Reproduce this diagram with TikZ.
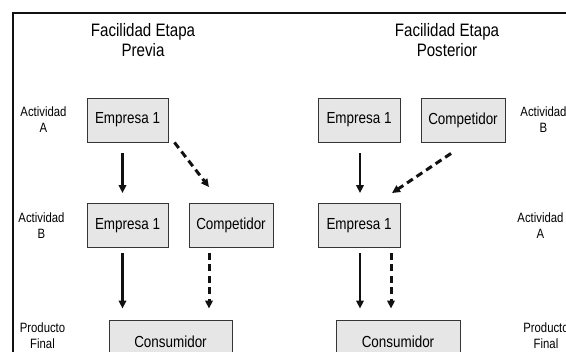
\documentclass[tikz,border=0pt]{standalone}
\usepackage{fontspec}
\setmainfont{Liberation Sans}[FakeStretch=0.84]
\usetikzlibrary{arrows.meta}
\definecolor{boxfill}{HTML}{E6E6E6}
\definecolor{ink}{HTML}{111111}
\begin{document}
\begin{tikzpicture}[x=1pt,y=-1pt,
  firm/.style={draw=ink!85, fill=boxfill, line width=0.9pt, minimum height=44pt, inner sep=0pt,
    font=\fontsize{16}{19}\selectfont},
  ttl/.style={align=center, font=\fontsize{18}{20}\selectfont, inner sep=0pt},
  lbl/.style={align=center, font=\fontsize{13.5}{16}\selectfont, inner sep=0pt},
  flow/.style={draw=ink, line width=2.3pt, -{Triangle[length=8pt,width=7.5pt]}},
  dflow/.style={draw=ink, line width=3pt, dash pattern=on 7pt off 4.5pt, -{Triangle[length=8pt,width=7.5pt]}}]
\useasboundingbox (0,0) rectangle (566,352);
\clip (0,0) rectangle (566,352);
% frame
\draw[line width=2pt, ink] (12.5,400) -- (12.5,13.5) -- (600,13.5);
% titles
\node[ttl] (t1) at (143,40) {Facilidad Etapa\\Previa};
\node[ttl] (t2) at (447,40) {Facilidad Etapa\\Posterior};
% left side boxes
\node[firm, minimum width=81pt] (la) at (127.5,120) {Empresa 1};
\node[firm, minimum width=81pt] (lb) at (127.5,225.5) {Empresa 1};
\node[firm, minimum width=84pt] (lc) at (231,225.5) {Competidor};
\node[firm, minimum width=123pt] (lk) at (170.5,342) {Consumidor};
% right side boxes
\node[firm, minimum width=82pt] (ra) at (359,120) {Empresa 1};
\node[firm, minimum width=84pt] (rc) at (463,120) {Competidor};
\node[firm, minimum width=82pt] (rb) at (359,225.5) {Empresa 1};
\node[firm, minimum width=124pt] (rk) at (398,342) {Consumidor};
% labels
\node[lbl] (l1) at (43.5,120) {Actividad\\A};
\node[lbl] (l2) at (41.5,226) {Actividad\\B};
\node[lbl] (l3) at (42.5,336) {Producto\\Final};
\node[lbl] (r1) at (543.5,120) {Actividad\\B};
\node[lbl] (r2) at (540.5,226) {Actividad\\A};
\node[lbl] (r3) at (546,336) {Producto\\Final};
% left connectors
\coordinate (s1) at ([xshift=-5pt,yshift=-11pt]la.south);
\coordinate (e1) at ([xshift=-5pt,yshift=10pt]lb.north);
\draw[flow] (s1) -- (e1);
\coordinate (ds1) at ([xshift=6pt,yshift=0pt]la.south east);
\coordinate (de1) at ([xshift=-22pt,yshift=16pt]lc.north);
\draw[dflow] (ds1) -- (de1);
\coordinate (s2) at ([xshift=-5pt,yshift=-5pt]lb.south);
\coordinate (e2) at ([xshift=-48pt,yshift=11pt]lk.north);
\draw[flow] (s2) -- (e2);
\coordinate (s3) at ([xshift=-22pt,yshift=-5pt]lc.south);
\coordinate (e3) at ([xshift=38.5pt,yshift=11pt]lk.north);
\draw[dflow] (s3) -- (e3);
% right connectors
\coordinate (rs1) at ([xshift=1pt,yshift=-11pt]ra.south);
\coordinate (re1) at ([xshift=1pt,yshift=10pt]rb.north);
\draw[flow] (rs1) -- (re1);
\coordinate (rds1) at ([xshift=-12pt,yshift=-11pt]rc.south);
\coordinate (rde1) at ([xshift=33pt,yshift=10pt]rb.north);
\draw[dflow] (rds1) -- (rde1);
\coordinate (rs2) at ([xshift=1pt,yshift=-5pt]rb.south);
\coordinate (re2) at ([xshift=-38pt,yshift=11pt]rk.north);
\draw[flow] (rs2) -- (re2);
\coordinate (rs3) at ([xshift=32pt,yshift=-5pt]rb.south);
\coordinate (re3) at ([xshift=-7pt,yshift=11pt]rk.north);
\draw[dflow] (rs3) -- (re3);
\end{tikzpicture}
\end{document}
